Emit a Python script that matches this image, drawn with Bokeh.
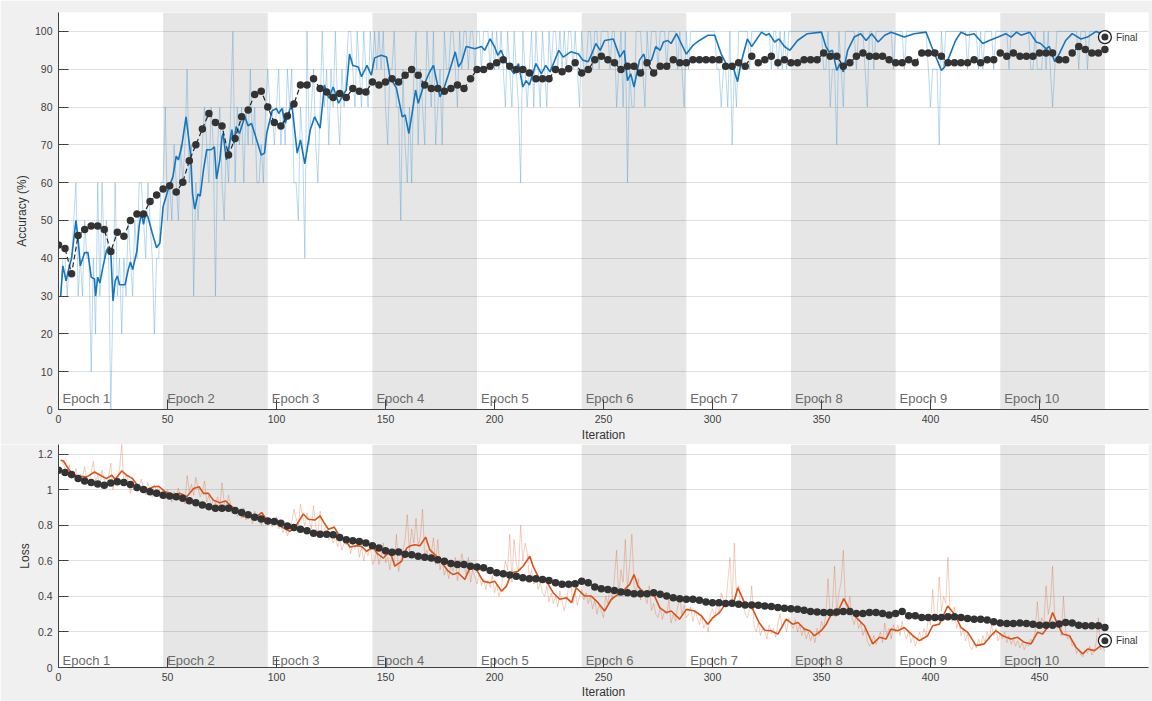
import numpy as np
from bokeh.plotting import figure
from bokeh.layouts import column
from bokeh.models import FixedTicker, CustomJSTickFormatter, Range1d
from bokeh.core.properties import value
from bokeh.embed import file_html
from bokeh.resources import INLINE

# ---------------- data ----------------
ITERS_PER_EPOCH = 48
N_EPOCHS = 10
epoch_labels = ["Epoch %d" % k for k in range(1, N_EPOCHS + 1)]
iter_ticks = [0, 50, 100, 150, 200, 250, 300, 350, 400, 450]
acc_ticks = [0, 10, 20, 30, 40, 50, 60, 70, 80, 90, 100]
loss_ticks = [0, 0.2, 0.4, 0.6, 0.8, 1.0, 1.2]

train_iter = list(range(1, 481))

train_acc_raw = [
    30,40,40,30,40,40,50,60,30,40,30,50, 40,40,10,40,20,60,30,60,40,50,40,0,
    30,60,30,40,20,40,30,50,40,30,50,40, 60,60,50,40,60,50,40,20,40,40,60,60,
    80,50,60,50,70,60,50,70,60,70,90,60, 70,30,60,50,60,70,80,70,60,80,70,30,
    70,80,60,50,70,60,80,100,60,80,70,80, 60,80,70,90,70,80,60,60,70,60,80,90,
    80,80,70,80,90,70,80,70,90,80,90,60, 60,50,80,70,40,100,70,80,90,70,60,80,
    100,80,90,70,90,80,100,80,70,90,80,90, 100,100,90,80,100,90,80,100,90,80,100,90,
    100,90,100,90,100,80,70,90,90,100,80,80, 50,90,70,60,80,60,90,100,70,90,80,70,
    100,90,80,100,70,80,90,70,100,90,90,100, 100,90,80,100,90,100,100,90,100,100,90,100,
    100,90,100,100,100,90,100,90,100,90,100,90, 80,100,90,80,100,90,80,60,100,90,80,90,
    100,80,100,90,80,100,90,80,100,90,100,100, 90,100,90,100,90,100,100,90,100,90,80,100,
    90,90,100,100,90,100,100,90,100,100,100,100, 90,100,100,80,90,100,80,100,60,90,80,80,
    100,100,100,90,80,100,90,100,100,100,90,100, 100,100,90,100,100,100,100,90,100,90,80,100,
    90,100,100,100,100,100,100,100,100,100,100,100, 100,90,90,80,90,90,80,100,70,90,80,100,
    100,100,100,100,90,100,100,100,100,100,100,100, 100,100,90,100,100,90,100,90,100,90,100,100,
    100,100,100,100,100,100,100,100,100,100,100,100, 100,100,90,90,100,80,90,90,70,100,90,80,
    100,100,100,100,100,90,100,100,100,90,80,100, 100,90,100,100,100,100,100,100,100,100,90,100,
    100,100,100,90,100,100,100,100,100,100,100,100, 100,100,90,80,90,90,90,70,100,90,100,100,
    100,100,100,100,100,100,100,100,90,100,100,100, 100,90,100,90,100,100,100,100,90,100,100,100,
    100,100,100,90,100,100,100,100,100,100,100,100, 100,90,90,100,90,90,90,100,90,100,90,80,
    90,100,100,100,100,100,100,100,100,100,100,90, 100,100,100,90,100,100,100,100,100,100,100,100,
]

train_acc_smooth_pts = [
    (1,30),(2,38),(3.5,34),(4.6,37),(6,40),(8,50),(9,45),(10,38),(12,41.5),(13.5,41.5),
    (15,35),(16.5,34.5),(17,30),(18,35),(19,33.5),(20.5,38),(22,42),(23,43),(24,41.5),(25,28.7),
    (26,34),(27,35.3),(28,33),(30.5,33),(32,37),(33,39),(34,37),(36,42),(37,48.5),(38,52),
    (39,49),(40,52),(41,51),(43,46.7),(45,42.8),(46.5,44),(48,53.7),(50.5,58.6),(52.5,61.6),(54,67),
    (55,66),(56.5,69.5),(58.5,77.4),(60.5,68),(61.5,57),(62.5,53),(64,57),(65,56.4),(66.5,63.4),(68,68.7),
    (70,68.7),(71.5,69.5),(72.5,61),(74,66),(75,72),(75.5,73),(77,66),(78,68.7),(79.5,74),(80.5,70.4),
    (81.5,74.8),(83,73),(85.5,77.4),(87,75),(88.5,75.7),(90,73),(93,67.3),(94.5,67.8),(95.5,73),(98,79),
    (100,79.6),(101,78.3),(102.5,79.6),(104,75.7),(105.5,78.3),(107,81),(109.5,67.8),(111,71.3),(113,65),(115.5,74),
    (117.5,77.4),(120,74.4),(122,85.8),(124,82.3),(126,85.3),(128.5,81),(130,82.7),(132,84.5),(133.5,94),(135,91),
    (137.5,90.6),(139,88),(141.5,91),(143.5,88.4),(145,93),(148,93.7),(150.5,93.2),(152,88),(155,85),(157.7,77.4),
    (159,77.9),(160.7,73),(162.2,78.3),(163.8,84.5),(165,81),(167.3,85.3),(170,89),(172,91),(175,82.7),(177,85.3),
    (179,88.8),(182,94.6),(183.5,90.6),(185,92),(187,96),(191,95.4),(194,96),(195.5,95),(198,98),(200,96),
    (201.5,93.7),(203,95),(205.5,91.5),(209,88.8),(211,91.5),(213,85.3),(214.5,87),(216,85.8),(219,91.5),(221.5,88.8),
    (223.5,91),(225.5,89.3),(229.5,95),(231.5,93.2),(235,94.6),(238.5,94),(240.5,92.4),(243,92),(245,94.6),(246.5,96.8),
    (248.5,95),(250.5,97.6),(254.5,98),(257.5,93.2),(259.5,95),(261,87),(262.5,88.8),(264,85.3),(266.5,92.4),(268.5,94),
    (269.5,91.5),(272,92.4),(274,96),(276,95),(277.5,97.2),(279.5,97.6),(281,96.8),(283.5,99.4),(285,97.6),(288,94),
    (291,96.3),(294,97.6),(298,99),(301,99),(304,94),(307,90.6),(309.5,90.6),(311.5,86.7),(313,91.5),(316,98),
    (318,96),(322.5,99.8),(324.5,99),(326,99.4),(328.5,97.2),(330.5,98),(333,96),(335.5,95),(339,97.6),(343.5,99.4),
    (350,99.8),(352,96),(353.5,94.6),(355,95),(357,89.7),(358.5,91.5),(360,89.3),(362,95),(365,98.5),(368,99.4),
    (370.5,97.6),(373,99.4),(376,97.2),(379,99),(382,99.8),(388,98.5),(392.5,99.4),(398,99.8),(400.5,96),(405,89.7),
    (406.5,90.6),(408.5,93.2),(411.5,97.6),(414,99.8),(417,99),(420,99.4),(424,96.8),(427,97.6),(431,98.5),(434.5,99.4),
    (437,98.5),(439.5,99.8),(441.5,99),(445.5,99.8),(448.5,97.2),(450.5,96.8),(453,95.4),(454.5,96),(457,92),(459,94),
    (462,97.6),(465,99.4),(469,98),(472,98.5),(476,100),(480,99),
]

val_iter = list(range(0, 481, 3))
val_acc = [
    43.5,42.6,35.9,46.0,47.6,48.5,48.5,47.6,41.8,46.9,
    45.8,50.0,51.7,51.7,55.0,56.7,58.3,59.2,57.5,60.1,
    65.8,70.0,74.2,78.3,75.9,75.0,67.3,71.7,77.4,79.2,
    83.3,84.2,80.0,75.9,75.0,77.6,80.8,85.8,85.8,87.5,
    84.9,84.0,82.5,83.6,82.5,84.9,84.2,84.0,86.6,85.8,
    86.6,87.5,86.6,88.4,89.9,88.4,85.8,84.9,84.9,84.2,
    84.9,85.8,84.9,87.5,89.9,89.9,90.8,91.7,92.5,90.8,
    89.9,89.9,89.0,87.5,87.5,87.5,89.9,89.3,90.1,91.7,
    89.0,89.9,92.5,93.4,92.5,91.7,89.9,90.8,90.8,89.0,
    91.7,89.0,90.8,90.8,92.5,91.7,91.7,92.5,92.5,92.5,
    92.5,92.5,90.8,90.8,91.7,90.8,93.4,91.7,92.5,93.4,
    91.7,92.5,91.7,91.7,92.5,92.5,92.5,94.3,93.4,93.4,
    90.8,91.7,93.4,94.3,93.4,93.4,93.4,92.5,91.7,91.7,
    92.5,91.7,94.3,94.3,94.3,93.4,91.7,91.7,91.7,91.7,
    92.5,91.7,92.5,92.5,94.3,93.4,94.3,93.4,93.4,93.4,
    94.3,94.3,94.3,92.5,92.5,94.3,96.0,95.2,94.3,94.3,
    95.2,
]

train_loss_raw = [
    1.17,1.15,1.12,1.10,1.14,1.06,1.08,1.12,1.05,1.09,1.07,1.13,
    1.06,1.04,1.10,1.16,1.05,1.08,1.03,1.11,1.06,1.02,1.08,1.15,
    1.00,1.07,1.04,1.12,1.26,1.02,1.09,1.05,0.98,1.07,1.03,0.99,
    1.02,1.06,1.00,0.97,1.04,1.00,0.96,1.03,0.99,1.02,0.97,1.00,
    0.95,1.00,0.97,0.93,0.99,0.96,1.01,0.94,0.98,0.92,1.08,0.99,
    1.03,0.97,1.07,1.01,0.96,0.99,1.05,0.93,0.97,0.90,0.95,0.92,
    0.96,0.90,1.04,0.93,0.89,0.97,0.91,0.87,0.90,0.85,0.88,0.84,
    0.90,0.83,0.87,0.85,0.81,0.88,0.84,0.86,0.80,0.85,0.82,0.80,
    0.84,0.79,0.82,0.85,0.78,0.80,0.76,0.79,0.74,0.77,0.82,0.89,
    0.84,0.80,0.92,0.85,0.80,0.87,0.83,0.78,0.91,0.79,0.76,0.88,
    0.75,0.78,0.80,0.72,0.76,0.70,0.74,0.68,0.72,0.66,0.70,0.69,
    0.73,0.64,0.70,0.67,0.71,0.62,0.68,0.60,0.66,0.63,0.69,0.58,
    0.60,0.66,0.58,0.63,0.70,0.59,0.62,0.55,0.64,0.57,0.75,0.54,
    0.60,0.66,0.72,0.86,0.65,0.78,0.70,0.84,0.68,0.74,0.89,0.62,
    0.66,0.60,0.64,0.73,0.58,0.72,0.55,0.60,0.52,0.56,0.50,0.58,
    0.54,0.62,0.49,0.56,0.64,0.58,0.52,0.62,0.48,0.55,0.51,0.47,
    0.53,0.46,0.50,0.44,0.49,0.45,0.52,0.42,0.47,0.40,0.44,0.52,
    0.60,0.55,0.75,0.48,0.72,0.58,0.54,0.80,0.60,0.70,0.65,0.50,
    0.55,0.47,0.52,0.44,0.48,0.42,0.40,0.46,0.37,0.42,0.36,0.40,
    0.34,0.43,0.37,0.32,0.38,0.45,0.48,0.36,0.42,0.35,0.40,0.44,
    0.38,0.42,0.36,0.40,0.33,0.38,0.30,0.35,0.32,0.28,0.40,0.36,
    0.45,0.38,0.50,0.66,0.40,0.55,0.48,0.72,0.44,0.58,0.75,0.46,
    0.42,0.50,0.38,0.44,0.40,0.36,0.46,0.32,0.36,0.30,0.28,0.34,
    0.27,0.32,0.30,0.38,0.25,0.30,0.26,0.34,0.40,0.30,0.35,0.28,
    0.30,0.34,0.26,0.32,0.28,0.24,0.30,0.22,0.26,0.20,0.30,0.33,
    0.28,0.36,0.30,0.42,0.38,0.34,0.48,0.62,0.36,0.70,0.40,0.46,
    0.34,0.38,0.30,0.28,0.33,0.46,0.24,0.20,0.25,0.18,0.22,0.20,
    0.16,0.24,0.19,0.22,0.17,0.25,0.30,0.22,0.26,0.20,0.28,0.24,
    0.22,0.27,0.20,0.24,0.18,0.22,0.16,0.20,0.15,0.19,0.14,0.22,
    0.18,0.26,0.22,0.30,0.50,0.28,0.34,0.57,0.30,0.42,0.48,0.66,
    0.36,0.32,0.40,0.28,0.24,0.30,0.22,0.25,0.18,0.22,0.15,0.12,
    0.14,0.18,0.13,0.16,0.20,0.14,0.25,0.18,0.22,0.16,0.24,0.20,
    0.24,0.18,0.26,0.20,0.16,0.21,0.14,0.18,0.12,0.16,0.20,0.15,
    0.22,0.18,0.28,0.24,0.44,0.26,0.30,0.51,0.32,0.40,0.36,0.62,
    0.30,0.26,0.34,0.22,0.26,0.18,0.22,0.15,0.19,0.12,0.10,0.14,
    0.11,0.16,0.12,0.18,0.14,0.20,0.16,0.24,0.18,0.22,0.15,0.19,
    0.16,0.20,0.14,0.18,0.13,0.16,0.12,0.15,0.11,0.14,0.10,0.13,
    0.12,0.16,0.14,0.20,0.37,0.22,0.28,0.24,0.46,0.30,0.36,0.57,
    0.28,0.22,0.25,0.18,0.40,0.20,0.16,0.18,0.12,0.14,0.08,0.10,
    0.07,0.06,0.10,0.08,0.12,0.07,0.09,0.14,0.28,0.10,0.12,0.09,
]

train_loss_smooth_pts = [
    (1,1.166),(2.3,1.162),(3.5,1.138),(5,1.110),(7,1.086),(9,1.076),(13,1.073),(16.5,1.100),(20,1.076),(22,1.063),
    (24.5,1.082),(26,1.058),(29,1.106),(31.3,1.082),(34,1.063),(36.7,1.017),(40.5,1.002),(43.6,1.017),(46,1.02),(49,0.989),
    (52,0.970),(55.8,0.980),(58.8,0.961),(62,1.007),(64.5,1.017),(66.5,0.980),(68.8,0.980),(71,0.942),(74,0.927),(76.7,0.937),
    (78.7,0.914),(81.7,0.886),(84.8,0.849),(87.9,0.858),(90.5,0.845),(93.2,0.872),(95.5,0.830),(99.3,0.830),(102.4,0.790),(106.2,0.765),
    (109.2,0.803),(112.3,0.864),(114.6,0.834),(117.6,0.830),(120,0.853),(121.5,0.821),(123.8,0.778),(126.5,0.790),(128.3,0.752),(131.4,0.719),
    (133.7,0.678),(136.8,0.685),(139,0.682),(141.3,0.654),(144.4,0.678),(146,0.644),(149,0.616),(151.3,0.644),(152.8,0.626),(154.3,0.570),
    (157.4,0.598),(159.7,0.672),(161.5,0.685),(163.5,0.691),(165.8,0.685),(168.4,0.734),(170.3,0.663),(172.6,0.635),(174.2,0.616),(178.8,0.542),
    (181,0.523),(183.3,0.533),(186.4,0.495),(188.7,0.561),(191.7,0.551),(194.8,0.486),(197.8,0.477),(200.1,0.486),(203.2,0.430),(205.5,0.458),
    (207.8,0.533),(210.8,0.542),(213.1,0.570),(216.2,0.626),(217.7,0.570),(220.7,0.495),(223.8,0.486),(226.9,0.421),(229.9,0.384),(233,0.393),
    (235.3,0.365),(237.5,0.449),(241.4,0.402),(244.4,0.402),(247.5,0.365),(250.5,0.318),(253.6,0.384),(256.7,0.412),(259.7,0.440),(262,0.468),
    (264,0.523),(265.8,0.458),(268.9,0.412),(272.7,0.421),(275.8,0.337),(278.8,0.309),(281.1,0.318),(284.9,0.272),(288,0.327),(291.8,0.318),
    (294.9,0.290),(297.9,0.244),(300.2,0.281),(303.2,0.309),(306.3,0.365),(309.3,0.346),(311.6,0.449),(314.7,0.365),(318.5,0.327),(321.5,0.250),
    (324,0.210),(326.9,0.207),(330,0.188),(333.8,0.272),(336.8,0.244),(339.2,0.253),(342.2,0.216),(344.6,0.207),(346.8,0.179),(349.9,0.207),
    (352.2,0.244),(354.5,0.300),(356.7,0.291),(360.2,0.388),(362.8,0.328),(366.7,0.272),(369.7,0.235),(373.5,0.133),(376.6,0.170),(379.6,0.160),
    (381.9,0.216),(385,0.207),(388,0.225),(391.9,0.179),(394.9,0.151),(398.7,0.179),(401,0.235),(404.1,0.244),(407.9,0.346),(411,0.300),
    (414,0.225),(417.1,0.198),(420.9,0.123),(424.7,0.133),(427.7,0.179),(430,0.207),(433.1,0.179),(436.9,0.160),(440,0.170),(443,0.142),
    (446.1,0.133),(449.1,0.198),(451.4,0.188),(453.7,0.225),(456,0.309),(458.3,0.244),(460.6,0.188),(463.7,0.179),(466.7,0.114),(469.8,0.077),
    (472.1,0.104),(475.2,0.095),(478.2,0.123),(480,0.151),
]

val_loss = [
    1.110,1.097,1.086,1.063,1.050,1.041,1.032,1.026,1.039,1.045,
    1.041,1.030,1.013,1.002,0.989,0.980,0.970,0.965,0.961,0.952,
    0.939,0.927,0.914,0.905,0.896,0.896,0.896,0.883,0.872,0.859,
    0.846,0.836,0.825,0.821,0.812,0.797,0.788,0.778,0.769,0.756,
    0.750,0.750,0.747,0.732,0.719,0.713,0.709,0.700,0.685,0.672,
    0.657,0.648,0.650,0.638,0.635,0.626,0.620,0.616,0.607,0.598,
    0.585,0.579,0.579,0.570,0.566,0.561,0.546,0.533,0.527,0.520,
    0.514,0.505,0.499,0.499,0.495,0.490,0.477,0.468,0.468,0.471,
    0.486,0.477,0.453,0.443,0.439,0.434,0.425,0.421,0.415,0.415,
    0.415,0.421,0.412,0.402,0.393,0.387,0.384,0.384,0.378,0.369,
    0.365,0.365,0.360,0.361,0.356,0.352,0.352,0.350,0.346,0.343,
    0.337,0.333,0.331,0.328,0.322,0.315,0.313,0.309,0.309,0.313,
    0.315,0.315,0.304,0.304,0.309,0.309,0.304,0.296,0.304,0.315,
    0.291,0.291,0.282,0.282,0.282,0.282,0.285,0.285,0.282,0.276,
    0.272,0.272,0.268,0.257,0.250,0.248,0.248,0.250,0.248,0.244,
    0.238,0.238,0.238,0.245,0.253,0.250,0.238,0.235,0.235,0.235,
    0.225,
]

final_iter = 480
final_acc = 98.5
final_loss = 0.151

# ---------------- styling ----------------
FONT = "Liberation Sans"
BLUE = "#1675bb"
ORANGE = "#d95319"
DARK = "#333333"
BG = "#f0f0f0"
BAND = "#e6e6e6"
W = 1152


def make_fig(height, y_end, y_ticks, ylabel, mb_top, mb_bottom, fmt=None,
             lab_stand=5, ax_stand=2):
    p = figure(width=W, height=height, output_backend="svg", toolbar_location=None,
               x_range=Range1d(0, 500), y_range=Range1d(0, y_end),
               min_border_left=58, min_border_right=4, min_border_top=mb_top,
               min_border_bottom=mb_bottom, background_fill_color="white",
               border_fill_color=BG, outline_line_color=None)
    p.xgrid.visible = False
    p.ygrid.grid_line_color = "#262626"
    p.ygrid.grid_line_alpha = 0.14
    p.ygrid.ticker = FixedTicker(ticks=y_ticks)
    p.xaxis.ticker = FixedTicker(ticks=iter_ticks)
    p.yaxis.ticker = FixedTicker(ticks=y_ticks)
    if fmt is not None:
        p.yaxis.formatter = fmt
    for ax in (p.xaxis[0], p.yaxis[0]):
        ax.axis_line_color = "#404040"
        ax.major_tick_line_color = "#404040"
        ax.major_tick_in = 10
        ax.major_tick_out = 0
        ax.minor_tick_line_color = None
        ax.major_label_text_font = FONT
        ax.major_label_text_font_size = "10.5px"
        ax.major_label_text_color = "#404040"
        ax.axis_label_text_font = FONT
        ax.axis_label_text_font_size = "12px"
        ax.axis_label_text_font_style = "normal"
        ax.axis_label_text_color = "#333333"
    p.xaxis.axis_label = "Iteration"
    p.yaxis.axis_label = ylabel
    p.xaxis.major_label_standoff = lab_stand
    p.xaxis.axis_label_standoff = ax_stand
    p.yaxis.major_label_standoff = 6
    p.yaxis.axis_label_standoff = 3
    # epoch bands (every other epoch shaded)
    band_left = [k * ITERS_PER_EPOCH for k in range(1, N_EPOCHS, 2)]
    band_right = [b + ITERS_PER_EPOCH for b in band_left]
    r = p.quad(left=band_left, right=band_right, bottom=0, top=y_end,
               fill_color=BAND, line_color=None)
    r.level = "image"
    return p


def epoch_text(p, y):
    xs = [k * ITERS_PER_EPOCH for k in range(N_EPOCHS)]
    p.text(x=xs, y=[y] * N_EPOCHS, text=epoch_labels, x_offset=4,
           text_font=value(FONT), text_font_size="13px", text_color="#6a6a6a",
           text_baseline="alphabetic", text_align="left")


def final_marker(p, x, y):
    p.scatter([x], [y], size=13, fill_color="white", line_color="#222222", line_width=1.3)
    p.scatter([x], [y], size=7, fill_color="#333333", line_color=None)
    p.text(x=[x], y=[y], text=["Final"], x_offset=11, text_baseline="middle",
           text_font=value(FONT), text_font_size="10px", text_color="#333333")


# ---------------- accuracy panel ----------------
p1 = make_fig(444, 105, acc_ticks, "Accuracy (%)", 12, 33)
p1.line(train_iter, train_acc_raw, line_color="#4d9bd1", line_alpha=0.38, line_width=1)
p1.line([t[0] for t in train_acc_smooth_pts], [t[1] for t in train_acc_smooth_pts],
        line_color=BLUE, line_width=1.6)
p1.line(val_iter, val_acc, line_color="#262626", line_width=1.2, line_dash="5 3")
p1.scatter(val_iter, val_acc, size=7.5, fill_color=DARK, line_color=None)
epoch_text(p1, 2.8)
final_marker(p1, final_iter, final_acc)

# ---------------- loss panel ----------------
loss_fmt = CustomJSTickFormatter(code="return (Math.round(tick*10)/10).toString();")
p2 = make_fig(257, 1.255, loss_ticks, "Loss", 0, 32, fmt=loss_fmt, lab_stand=5, ax_stand=1)
p2.line(train_iter, train_loss_raw, line_color=ORANGE, line_alpha=0.28, line_width=1)
p2.line([t[0] for t in train_loss_smooth_pts], [t[1] for t in train_loss_smooth_pts],
        line_color=ORANGE, line_width=1.6)
p2.line(val_iter, val_loss, line_color="#262626", line_width=1.2, line_dash="5 3")
p2.scatter(val_iter, val_loss, size=7.5, fill_color=DARK, line_color=None)
epoch_text(p2, 0.037)
final_marker(p2, final_iter, final_loss)

layout = column(p1, p2, spacing=0)
open("out.html", "w").write(file_html(layout, INLINE))
